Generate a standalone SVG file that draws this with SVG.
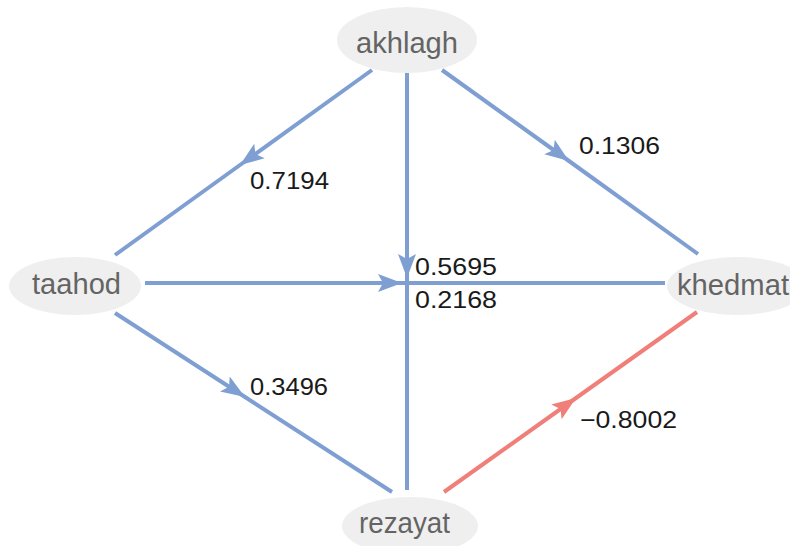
<svg xmlns="http://www.w3.org/2000/svg" width="790" height="546" viewBox="0 0 790 546">
<style>
.e{fill:none;stroke-width:4;stroke-linecap:butt}
.b{stroke:#7f9fd3;marker-mid:url(#ab)}
.r{stroke:#f07f7a;marker-mid:url(#ar)}
.n{fill:#efefef;stroke:none}
.t{font-family:"Liberation Sans",Arial,sans-serif;font-size:29px;fill:#646464}
.l{font-family:"Liberation Sans",Arial,sans-serif;font-size:24px;fill:#1a1a1a}
</style>
<defs>
<marker id="ab" markerUnits="userSpaceOnUse" markerWidth="26" markerHeight="20" refX="24" refY="9" orient="auto" viewBox="0 0 26 18">
<path d="M0,0 L24,9 L0,18 L5,9 Z" fill="#7f9fd3"/>
</marker>
<marker id="ar" markerUnits="userSpaceOnUse" markerWidth="26" markerHeight="20" refX="24" refY="9" orient="auto" viewBox="0 0 26 18">
<path d="M0,0 L24,9 L0,18 L5,9 Z" fill="#f07f7a"/>
</marker>
</defs>
<rect width="790" height="546" fill="#ffffff"/>
<g id="connectors">
<path class="e b" d="M372,70 L240,165 L115,255"/>
<path class="e b" d="M442,70 L569,161 L698,254"/>
<path class="e b" d="M407,73 L407,278 L407,490"/>
<path class="e b" d="M145,283 L402,283 L665,283"/>
<path class="e b" d="M115,313 L245,397 L392,492"/>
<path class="e r" d="M444,492 L576,398 L697,312"/>
</g>
<g id="labels">
<text class="l" x="250" y="189" textLength="79" lengthAdjust="spacingAndGlyphs">0.7194</text>
<text class="l" x="579" y="154" textLength="81" lengthAdjust="spacingAndGlyphs">0.1306</text>
<text class="l" x="415" y="275" textLength="82" lengthAdjust="spacingAndGlyphs">0.5695</text>
<text class="l" x="415" y="308" textLength="82" lengthAdjust="spacingAndGlyphs">0.2168</text>
<text class="l" x="250" y="395" textLength="78" lengthAdjust="spacingAndGlyphs">0.3496</text>
<text class="l" x="580" y="428" textLength="97" lengthAdjust="spacingAndGlyphs">−0.8002</text>
</g>
<g id="akhlagh">
<ellipse class="n" cx="407" cy="40" rx="70" ry="33"/>
<text class="t" x="356" y="53" textLength="102" lengthAdjust="spacingAndGlyphs">akhlagh</text>
</g>
<g id="taahod">
<ellipse class="n" cx="75" cy="286" rx="66" ry="29"/>
<text class="t" x="32" y="294" textLength="89" lengthAdjust="spacingAndGlyphs">taahod</text>
</g>
<g id="khedmat">
<ellipse class="n" cx="737" cy="286" rx="70" ry="29"/>
<text class="t" x="677" y="295" textLength="112" lengthAdjust="spacingAndGlyphs">khedmat</text>
</g>
<g id="rezayat">
<ellipse class="n" cx="410" cy="526" rx="68" ry="29"/>
<text class="t" x="359" y="533" textLength="91" lengthAdjust="spacingAndGlyphs">rezayat</text>
</g>
</svg>
